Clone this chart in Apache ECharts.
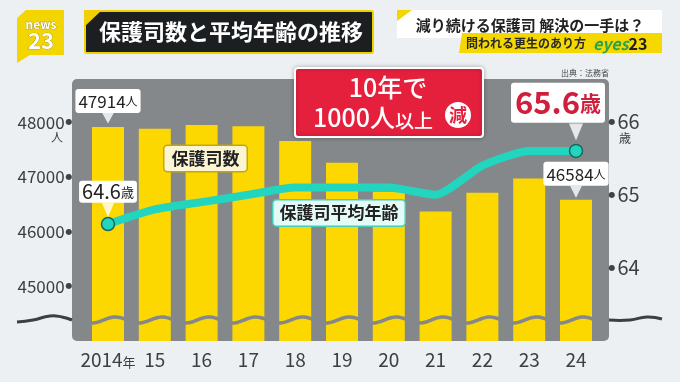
<!DOCTYPE html>
<html><head><meta charset="utf-8">
<script src="https://cdn.jsdelivr.net/npm/echarts@6/dist/echarts.min.js"></script>
<style>html,body{margin:0;padding:0;background:#edf0f2;}#c{width:680px;height:382px;}</style>
</head><body><div id="c"></div>
<script>
const years = ['2014','15','16','17','18','19','20','21','22','23','24'];
const officers = [47914,47880,47950,47930,47660,47260,46730,46370,46710,46970,46584];
const avgAge = [64.6,64.8,64.9,65.0,65.1,65.1,65.1,65.0,65.4,65.6,65.6];
const leftTicks = [45000,46000,47000,48000];
const rightTicks = [64,65,66];
const seriesNames = ['保護司数','保護司平均年齢'];
const titleText = '保護司数と平均年齢の推移';
const headline = '減り続ける保護司 解決の一手は？';
const subline = '問われる更生のあり方';
const sourceText = '出典：法務省';

const FONT = "'Noto Sans CJK JP', 'Noto Sans', sans-serif";
const last = years.length - 1;
const TXT = '#3b4045';

const chart = echarts.init(document.getElementById('c'), null, {renderer:'canvas'});

// decorative wave across the panel (break mark)
const wave = [];
for (let x = 72; x <= 609; x += 2) {
  wave.push([x, 320 + 3 * Math.sin(2 * Math.PI * (x - 80.3) / 46.8)]);
}

const barData = officers.map((v, i) => {
  if (i === 0 || i === last) {
    return {value: v, label: {show: true, position: 'top', distance: 14,
      formatter: p => '{n|' + p.value + '}{u|人}',
      backgroundColor: '#fff', padding: [3, 3, 2, 3], borderRadius: 3,
      rich: {n: {fontSize: 17, color: '#222', fontFamily: FONT, lineHeight: 19},
             u: {fontSize: 12, color: '#222', fontFamily: FONT, lineHeight: 19}}}};
  }
  return v;
});

const lineData = avgAge.map((v, i) => {
  if (i === 0) {
    return {value: v, symbol: 'circle', symbolSize: 13,
      label: {show: true, position: 'top', distance: 14,
        formatter: p => '{n|' + p.value.toFixed(1) + '}{u|歳}',
        backgroundColor: '#fff', padding: [1, 3, 1, 3], borderRadius: 3,
        rich: {n: {fontSize: 20, color: '#222', fontFamily: FONT, lineHeight: 20},
               u: {fontSize: 13, color: '#222', fontFamily: FONT, lineHeight: 20}}}};
  }
  if (i === last) {
    return {value: v, symbol: 'circle', symbolSize: 13,
      label: {show: true, position: 'top', distance: 21, offset: [-18, 0],
        formatter: p => '{n|' + p.value.toFixed(1) + '}{u|歳}',
        backgroundColor: '#fff', padding: [3, 4, 3, 4], borderRadius: 3,
        rich: {n: {fontSize: 31, color: '#d01f3c', fontFamily: FONT, lineHeight: 34, fontWeight: 'bold'},
               u: {fontSize: 21, color: '#d01f3c', fontFamily: FONT, lineHeight: 34, fontWeight: 'bold'}}}};
  }
  return {value: v, symbol: 'none'};
});

const barPointer = officers.map((v, i) => {
  if (i === 0) return {value: v, symbolSize: [12, 11], symbolOffset: [0, -9]};
  if (i === last) return {value: v, symbolSize: [12, 12], symbolOffset: [0, -8]};
  return '-';
});
const agePointer = avgAge.map((v, i) => {
  if (i === 0) return {value: v, symbolSize: [12, 14], symbolOffset: [0, -14]};
  if (i === last) return {value: v, symbolSize: [14, 17], symbolOffset: [0, -19]};
  return '-';
});

const dotStyle = {fontSize: 8, color: '#3f4448', fontFamily: 'DejaVu Sans'};

const option = {
  backgroundColor: '#edf0f2',
  animation: false,
  textStyle: {fontFamily: FONT},
  grid: {left: 84.6, right: 80.6, top: 79, bottom: 41, containLabel: false},
  xAxis: {
    type: 'category', data: years,
    axisLine: {show: false}, axisTick: {show: false},
    axisLabel: {
      interval: 0, margin: 6,
      formatter: (v, i) => i === 0 ? '{y|' + v + '}{s|年}' : '{y|' + v + '}',
      rich: {y: {fontSize: 19, color: TXT, fontFamily: FONT, lineHeight: 22, verticalAlign: 'bottom'},
             s: {fontSize: 13, color: TXT, fontFamily: FONT, lineHeight: 22, verticalAlign: 'bottom'}}
    }
  },
  yAxis: [
    {type: 'value', min: 44000, max: 48792, interval: 1000,
     splitLine: {show: false}, axisLine: {show: false}, axisTick: {show: false},
     axisLabel: {margin: 12, z: 50,
       formatter: v => leftTicks.includes(v) ? '{v|' + v + '}{d|●}' : '',
       rich: {v: {fontSize: 17, color: TXT, fontFamily: FONT, padding: [0, 1, 0, 0]}, d: dotStyle}}},
    {type: 'value', min: 63, max: 66.584, interval: 1,
     splitLine: {show: false}, axisLine: {show: false}, axisTick: {show: false},
     axisLabel: {margin: 9, z: 50,
       formatter: v => rightTicks.includes(v) ? '{d|●}{v|' + v + '}' : '',
       rich: {v: {fontSize: 20, color: TXT, fontFamily: FONT, padding: [0, 0, 0, 2]}, d: dotStyle}}}
  ],
  series: [
    {name: seriesNames[0], type: 'bar', yAxisIndex: 0, data: barData, barWidth: 32,
     itemStyle: {color: '#fdd800'}, z: 2},
    {name: seriesNames[1], type: 'line', yAxisIndex: 1, data: lineData, smooth: 0.2,
     lineStyle: {color: '#22d5bf', width: 8},
     itemStyle: {color: '#22d5bf', borderColor: '#17675a', borderWidth: 1.5}, z: 4},
    {type: 'scatter', yAxisIndex: 0, data: barPointer, symbol: 'triangle', symbolRotate: 180,
     itemStyle: {color: '#fff'}, silent: true, z: 5},
    {type: 'scatter', yAxisIndex: 1, data: agePointer, symbol: 'triangle', symbolRotate: 180,
     itemStyle: {color: '#fff'}, silent: true, z: 5}
  ],
  graphic: [
    // panel
    {type: 'rect', shape: {x: 72, y: 79, width: 537, height: 262, r: 5},
     style: {fill: '#84888b'}, z: -10, silent: true},
    // break wave across bars
    {type: 'polyline', shape: {points: wave, smooth: 0.4},
     style: {stroke: '#84888b', lineWidth: 3.5, fill: null}, z: 20, silent: true},
    {type: 'polyline', shape: {points: [[17,322],[33,320],[50,316],[62,317],[72,320]], smooth: 0.5},
     style: {stroke: '#3b4045', lineWidth: 3, fill: null}, z: 20},
    {type: 'polyline', shape: {points: [[609,320],[630,320],[647,317],[662,319]], smooth: 0.5},
     style: {stroke: '#3b4045', lineWidth: 3, fill: null}, z: 20},
    // news23 logo
    {type: 'polygon', shape: {points: [[26,10],[64,10],[64,55],[30,55],[17,63],[17,18]]},
     style: {fill: '#f3d500'}, z: 20},
    {type: 'text', style: {text: 'news', x: 41, y: 24, align: 'center', verticalAlign: 'middle',
     font: 'bold 12px ' + FONT, fill: '#fff', stroke: '#8a7a20', lineWidth: 0.6}, z: 21},
    {type: 'text', style: {text: '23', x: 41, y: 41, align: 'center', verticalAlign: 'middle',
     font: 'bold 22px ' + FONT, fill: '#fff', stroke: '#8a7a20', lineWidth: 0.6}, z: 21},
    // title box
    {type: 'rect', shape: {x: 85, y: 11, width: 288, height: 42, r: 2},
     style: {fill: '#1c1f22', stroke: '#f0d000', lineWidth: 2}, z: 20},
    {type: 'polygon', shape: {points: [[84,10],[102,10],[84,27]]}, style: {fill: '#f0d000'}, z: 21},
    {type: 'text', style: {text: titleText, x: 231, y: 32, align: 'center', verticalAlign: 'middle',
     font: 'bold 22px ' + FONT, fill: '#fff'}, z: 21},
    // top right
    {type: 'rect', shape: {x: 397, y: 10, width: 265, height: 28}, style: {fill: '#fff'}, z: 20},
    {type: 'polygon', shape: {points: [[397,10],[412,10],[397,21]]}, style: {fill: '#f3d500'}, z: 21},
    {type: 'text', style: {text: headline, x: 530, y: 25, align: 'center', verticalAlign: 'middle',
     font: 'bold 15px ' + FONT, fill: '#222'}, z: 21},
    {type: 'polygon', shape: {points: [[462,33],[662,33],[662,53],[459,53]]}, style: {fill: '#f5d800'}, z: 22},
    {type: 'text', style: {text: subline, x: 466, y: 43.5, align: 'left', verticalAlign: 'middle',
     font: 'bold 12px ' + FONT, fill: '#2a2a2a'}, z: 23},
    {type: 'text', style: {text: '{g|eyes}{k|23}', x: 593, y: 43.5, align: 'left', verticalAlign: 'middle',
     rich: {g: {font: 'bold italic 16px ' + FONT, fill: '#2aa34a'}, k: {font: 'bold 16px ' + FONT, fill: '#1d1d1d'}}}, z: 23},
    // source
    {type: 'text', style: {text: sourceText, x: 585, y: 73, align: 'center', verticalAlign: 'middle',
     font: '8px ' + FONT, fill: '#444'}, z: 20},
    // units
    {type: 'text', style: {text: '人', x: 57, y: 137, align: 'center', verticalAlign: 'middle',
     font: '12px ' + FONT, fill: TXT}, z: 20},
    {type: 'text', style: {text: '歳', x: 625, y: 138, align: 'center', verticalAlign: 'middle',
     font: '12px ' + FONT, fill: TXT}, z: 20},
    // red callout
    {type: 'rect', shape: {x: 295, y: 68, width: 188, height: 69, r: 3},
     style: {fill: '#e5203d', stroke: '#fff', lineWidth: 2, shadowBlur: 4, shadowColor: 'rgba(0,0,0,0.25)'}, z: 30},
    {type: 'text', style: {text: '10年で', x: 388, y: 87, align: 'center', verticalAlign: 'middle',
     font: '500 25px ' + FONT, fill: '#fff'}, z: 31},
    {type: 'text', style: {text: '{a|1000人}{b|以上}', x: 373, y: 116, align: 'center', verticalAlign: 'middle',
     rich: {a: {font: '500 25px ' + FONT, fill: '#fff', lineHeight: 28, verticalAlign: 'bottom'},
            b: {font: '500 19px ' + FONT, fill: '#fff', lineHeight: 28, verticalAlign: 'bottom'}}}, z: 31},
    {type: 'circle', shape: {cx: 458, cy: 115, r: 13}, style: {fill: '#fff'}, z: 31},
    {type: 'text', style: {text: '減', x: 458, y: 115, align: 'center', verticalAlign: 'middle',
     font: 'bold 18px ' + FONT, fill: '#e5203d'}, z: 32},
    // series name boxes
    {type: 'text', style: {text: seriesNames[0], x: 205.5, y: 158.5, align: 'center', verticalAlign: 'middle',
     font: 'bold 17px ' + FONT, fill: '#222', backgroundColor: '#fcf5d3', borderColor: '#c8a600',
     borderWidth: 1.5, borderRadius: 3, padding: [4, 7, 4, 7]}, z: 30},
    {type: 'text', style: {text: seriesNames[1], x: 339, y: 213, align: 'center', verticalAlign: 'middle',
     font: 'bold 17px ' + FONT, fill: '#222', backgroundColor: '#e4faf6', borderColor: '#3fcfbd',
     borderWidth: 1.5, borderRadius: 3, padding: [4, 6, 4, 6]}, z: 30}
  ]
};
chart.setOption(option);
</script>
</body></html>
